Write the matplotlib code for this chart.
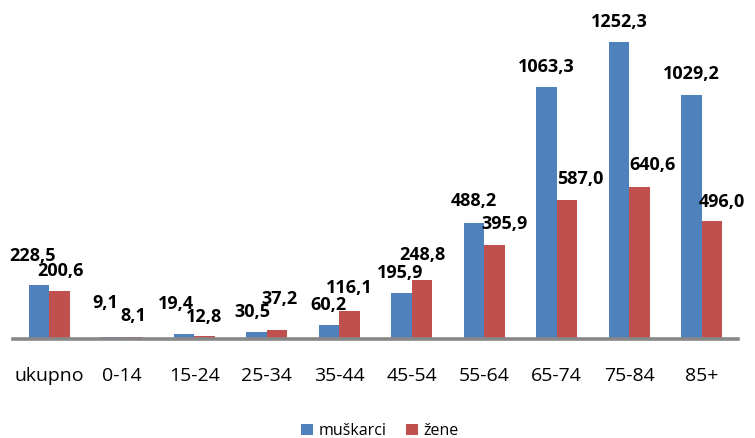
import matplotlib.pyplot as plt
import numpy as np

plt.rcParams['font.family'] = ['Open Sans', 'DejaVu Sans']

categories = ['ukupno', '0-14', '15-24', '25-34', '35-44', '45-54', '55-64', '65-74', '75-84', '85+']
muskarci = [228.5, 9.1, 19.4, 30.5, 60.2, 195.9, 488.2, 1063.3, 1252.3, 1029.2]
zene = [200.6, 8.1, 12.8, 37.2, 116.1, 248.8, 395.9, 587.0, 640.6, 496.0]

# label nudges in pixels (dx, extra dy) to mimic excel's overlap handling
blue_dx = [-7, -6, -8, -4, -1, -1, 0, 0, 0, 0]
blue_dy = [9, 14, 10, 0, 0, 0, 2, 0, 0, 1]
red_dx = [1, 1, 0, 3, 0, 1, 10, 13, 13, 10]
red_dy = [0, 1, -1, 11, 3, 5, 1, 1, 2, -1]

blue = '#4F81BD'
red = '#C0504D'

fig = plt.figure(figsize=(7.55, 4.38), dpi=100)
ax = fig.add_axes([13 / 755, 99 / 438, 725 / 755, 308 / 438])

x = np.arange(len(categories))
w = 0.28
ax.bar(x - w / 2, muskarci, w, color=blue, label='muškarci')
ax.bar(x + w / 2, zene, w, color=red, label='žene')

def fmt(v):
    return f'{v:.1f}'.replace('.', ',')

px = 72 / 100  # points per pixel
for i, v in enumerate(muskarci):
    ax.annotate(fmt(v), (x[i] - w / 2, v),
                xytext=(blue_dx[i] * px, (20 + blue_dy[i]) * px), textcoords='offset points',
                ha='center', va='center', fontsize=13, fontweight='bold')
for i, v in enumerate(zene):
    ax.annotate(fmt(v), (x[i] + w / 2, v),
                xytext=(red_dx[i] * px, (20 + red_dy[i]) * px), textcoords='offset points',
                ha='center', va='center', fontsize=13, fontweight='bold')

ax.set_xlim(-0.5, len(categories) - 0.5)
ax.set_ylim(0, 1300)
ax.set_xticks(x)
ax.set_xticklabels(categories, fontsize=14)
ax.tick_params(axis='x', length=0, pad=20)
ax.set_yticks([])
for s in ['top', 'right', 'left']:
    ax.spines[s].set_visible(False)
ax.spines['bottom'].set_color('#878787')
ax.spines['bottom'].set_linewidth(2.6)

fig.legend(loc='center', bbox_to_anchor=(0.503, 1 - 431 / 438), ncol=2, frameon=False,
           fontsize=11.5, handlelength=0.75, handleheight=0.75, columnspacing=1.2,
           handletextpad=0.35, borderpad=0)

fig.savefig('out.png', dpi=100)
